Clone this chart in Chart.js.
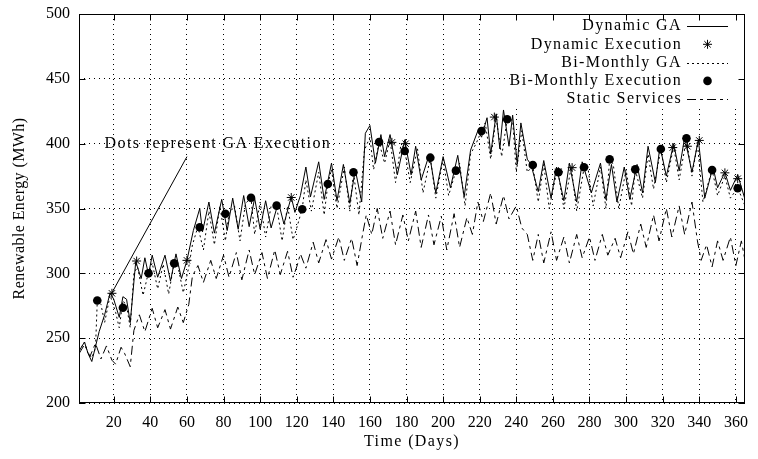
<!DOCTYPE html>
<html lang="en">
<head>
<meta charset="UTF-8">
<title>Renewable Energy (MWh)</title>
<script src="https://cdn.jsdelivr.net/npm/chart.js"></script>
<style>
  html, body { margin: 0; padding: 0; background: #fff; }
  .wrap { width: 758px; height: 459px; }
</style>
</head>
<body>
<div class="wrap"><canvas id="chart" width="758" height="459"></canvas></div>
<script>
  // ---- data (day, MWh) ----
  const xTicks = [20, 40, 60, 80, 100, 120, 140, 160, 180, 200, 220, 240, 260, 280, 300, 320, 340, 360];

  // Dynamic GA (solid line), vertices
  const dynGaDays = [1, 4, 6, 8, 12, 15, 18, 20, 23, 25, 27, 29, 32, 35, 37, 39, 41, 44, 48, 51, 54, 57, 60, 63.5, 67,
    68.5, 72, 75, 79, 82, 85, 88, 91, 94, 97, 100, 103, 106, 110, 113, 117, 119, 122, 125, 127.5, 132, 135, 139, 142,
    145.5, 149, 152, 155.5, 157.5, 160, 163, 166, 168, 171, 175, 179, 182.5, 185, 188, 192.5, 196, 200, 204, 208,
    211.5, 215, 219, 221, 224, 226, 229, 231, 233, 236, 238, 240.5, 242.5, 246, 248, 252, 255, 259, 262, 266, 269,
    273, 276, 281, 286, 289, 292, 295, 299, 302, 306, 309, 312, 316, 318.5, 322, 326, 329, 332, 336, 339.5, 343,
    347.5, 350, 354, 357, 361, 365];
  const dynGaVals = [240, 247, 238, 232, 255, 268, 285, 280, 266, 282, 280, 262, 309, 296, 312, 299, 314, 297, 314, 294, 315, 296, 310, 333, 350,
    332, 355, 331, 357, 333, 358, 334, 360, 336, 358, 334, 356, 335, 355, 338, 359, 347, 360, 382, 359, 386, 357, 385, 356,
    384, 354, 380, 355, 408, 414, 385, 407, 390, 407, 376, 403, 376, 398, 372, 392, 362, 390, 366, 391,
    359, 395, 410, 405, 420, 392, 423, 396, 426, 398, 422, 384, 416, 388, 384, 363, 387, 358, 382, 356, 385,
    355, 386, 362, 385, 357, 384, 355, 382, 357, 384, 362, 398, 370, 398, 375, 400, 379, 405, 378, 403, 358,
    382, 366, 378, 364, 376, 357];

  // Dynamic Execution (asterisks)
  const dynExecDays = [19, 32.5, 60, 117, 172, 179.5, 228, 263, 270.5, 325.5, 333.5, 340, 354, 361];
  const dynExecVals = [284.6, 309.5, 310, 358.5, 401, 400, 420.5, 378.4, 381.5, 397, 398, 402.5, 377.5, 373];

  // Bi-Monthly GA (dotted line), vertices
  const biGaDays = [1, 4, 6, 8, 10, 11, 13, 15, 18, 21, 23, 25, 27, 29, 31, 33, 36, 39, 41, 44, 47, 50, 53, 55, 58, 61,
    63, 66, 69, 72, 75, 78, 81, 83, 86, 89, 92, 95, 97, 100, 103, 106, 109, 112, 115, 118, 120, 123, 125, 128, 132,
    135, 137, 139, 142, 146, 149, 151, 154, 157, 160, 162, 165, 168, 171, 174, 177, 179, 182, 186, 189, 193, 196,
    200, 203, 207, 209, 212, 215, 218, 221, 223, 226, 229, 232, 235, 238, 240, 243, 246, 249, 252, 255, 258, 262,
    263, 266, 270, 273, 277, 279, 282, 286, 289, 291, 293, 296, 300, 303, 305, 309, 312, 315, 319, 322, 326, 329,
    333, 336, 339, 342, 347, 350, 354, 357, 361, 365];
  const biGaVals = [240, 247, 238, 235, 242, 279, 276, 262, 283, 270, 258, 279, 275, 258, 300, 305, 283, 301, 308, 288, 307, 284, 308, 306, 285, 305,
    322, 336, 318, 348, 322, 352, 325, 346, 352, 325, 354, 358, 330, 355, 328, 352, 352, 325, 352, 326, 335, 350, 372, 348, 378,
    345, 369, 380, 350, 382, 348, 378, 345, 395, 405, 380, 401, 385, 403, 370, 400, 395, 370, 396, 362, 389, 358,
    388, 360, 379, 385, 352, 392, 400, 410, 416, 388, 420, 390, 419, 418, 378, 410, 378, 383, 355, 384, 350, 378,
    377, 350, 382, 348, 381, 383, 352, 382, 350, 388, 384, 350, 380, 352, 380, 358, 392, 365, 396, 370, 398, 372,
    404, 375, 400, 355, 380, 360, 375, 358, 366, 352];

  // Bi-Monthly Execution (filled dots)
  const biExecDays = [11, 25, 39, 53, 67, 81, 95, 109, 123, 137, 151, 165, 179, 193, 207, 221, 235, 249, 263, 277, 291, 305, 319, 333, 347, 361];
  const biExecVals = [279, 273.5, 300, 307.7, 335.5, 346, 358.3, 352.2, 349.4, 368.9, 377.9, 401.3, 394.4, 389.2, 379.2, 409.8, 418.8,
    383.6, 377.9, 381.8, 387.9, 380.2, 395.9, 404.1, 379.7, 365.6];

  // Static Services (dash-dot line), vertices
  const staticDays = [1, 4, 7, 10, 13, 16, 19, 21, 24, 26, 29, 31, 34, 37, 41, 44, 48, 51, 55, 58, 61, 63, 66, 69, 73, 76,
    80, 83, 87, 90, 94, 97, 101, 104, 108, 111, 115, 118, 120, 122, 125, 129, 132, 136, 139, 143, 146, 150, 153, 156,
    158, 161, 164, 167, 171, 174, 178, 181, 185, 188, 192, 195, 199, 202, 206, 209, 213, 216, 219, 222, 226, 229,
    233, 236, 240, 243, 246, 249, 252, 255, 259, 262, 266, 269, 273, 276, 280, 283, 287, 290, 294, 297, 301, 304,
    308, 311, 315, 318, 322, 325, 329, 332, 336, 339, 341, 344, 347, 350, 353, 357, 360, 363, 365];
  const staticVals = [238, 245, 236, 246, 234, 244, 233, 230, 243, 238, 228, 256, 268, 255, 273, 258, 272, 257, 274, 262, 276, 298, 306, 293, 310, 296,
    314, 297, 316, 295, 318, 299, 316, 296, 318, 299, 317, 297, 305, 315, 304, 324, 308, 326, 311, 328, 310, 327, 306, 330,
    345, 330, 350, 327, 348, 322, 345, 325, 348, 320, 345, 322, 344, 318, 346, 320, 343, 330, 355, 340, 362, 338,
    360, 342, 352, 335, 330, 310, 330, 308, 332, 310, 328, 308, 330, 312, 328, 310, 330, 314, 327, 312, 332, 315,
    338, 320, 345, 325, 350, 328, 352, 330, 355, 325, 310, 322, 305, 325, 310, 328, 306, 325, 310];

  const note = 'Dots represent GA Execution';
  const noteAt = [15, 400];
  const noteArrow = [[60, 390], [19, 285]];

  const pts = (days, vals) => days.map((d, i) => ({ x: d, y: vals[i] }));

  const SERIF = '"Liberation Serif", "DejaVu Serif", serif';

  function spacedText(ctx, str, px, py, spacing) {
    ctx.letterSpacing = spacing;
    ctx.fillText(str, px, py);
    ctx.letterSpacing = '0px';
  }

  const overlay = {
    id: 'overlay',
    afterDatasetsDraw(chart) {
      const { ctx, chartArea: a, scales: { x, y } } = chart;
      ctx.save();
      ctx.fillStyle = '#000';
      ctx.strokeStyle = '#000';
      ctx.lineWidth = 1;

      // annotation
      ctx.font = '16px ' + SERIF;
      ctx.textAlign = 'left';
      ctx.textBaseline = 'middle';
      spacedText(ctx, note, x.getPixelForValue(noteAt[0]), y.getPixelForValue(noteAt[1]), '1.4px');
      ctx.beginPath();
      ctx.moveTo(x.getPixelForValue(noteArrow[0][0]), y.getPixelForValue(noteArrow[0][1]));
      ctx.lineTo(x.getPixelForValue(noteArrow[1][0]), y.getPixelForValue(noteArrow[1][1]));
      ctx.stroke();

      // key (opaque box, text right aligned, sample on the right)
      ctx.fillStyle = '#fff';
      ctx.fillRect(a.left + 432, a.top + 1, a.right - a.left - 435, 92);
      ctx.fillStyle = '#000';
      ctx.textAlign = 'right';
      chart.data.datasets.forEach((ds, i) => {
        const ry = a.top + 12 + i * 18.3;
        spacedText(ctx, ds.label, a.right - 63, ry, '1.4px');
        const sx0 = a.right - 58, sx1 = a.right - 17, mx = (sx0 + sx1) / 2;
        if (ds.showLine) {
          ctx.setLineDash(ds.borderDash || []);
          ctx.beginPath();
          ctx.moveTo(sx0, Math.round(ry) + 0.5);
          ctx.lineTo(sx1, Math.round(ry) + 0.5);
          ctx.stroke();
          ctx.setLineDash([]);
        } else if (ds.pointStyle === 'star') {
          const r = ds.pointRadius;
          ctx.beginPath();
          for (let k = 0; k < 4; k++) {
            const ang = k * Math.PI / 4;
            ctx.moveTo(mx - r * Math.cos(ang), ry - r * Math.sin(ang));
            ctx.lineTo(mx + r * Math.cos(ang), ry + r * Math.sin(ang));
          }
          ctx.stroke();
        } else {
          ctx.beginPath();
          ctx.arc(mx, ry, ds.pointRadius, 0, Math.PI * 2);
          ctx.fill();
        }
      });

      // frame with inward ticks on all sides
      const L = Math.round(a.left) + 0.5, R = Math.round(a.right) - 0.5;
      const T = Math.round(a.top) + 0.5, B = Math.round(a.bottom) - 0.5;
      ctx.strokeRect(L, T, R - L, B - T);
      ctx.beginPath();
      xTicks.forEach(v => {
        const px = Math.round(x.getPixelForValue(v)) + 0.5;
        ctx.moveTo(px, B); ctx.lineTo(px, B - 6);
        ctx.moveTo(px, T); ctx.lineTo(px, T + 6);
      });
      y.ticks.forEach(t => {
        const py = Math.round(y.getPixelForValue(t.value)) + 0.5;
        ctx.moveTo(L, py); ctx.lineTo(L + 6, py);
        ctx.moveTo(R, py); ctx.lineTo(R - 6, py);
      });
      ctx.stroke();

      // axis titles
      ctx.textAlign = 'center';
      spacedText(ctx, 'Time (Days)', (a.left + a.right) / 2, a.bottom + 39, '1.4px');
      ctx.translate(20, (a.top + a.bottom) / 2);
      ctx.rotate(-Math.PI / 2);
      spacedText(ctx, 'Renewable Energy (MWh)', 0, 0, '0.4px');
      ctx.restore();
    }
  };

  const lineDs = (label, data, dash) => ({
    label, data, showLine: true, borderColor: '#000', borderWidth: 1, borderDash: dash,
    pointRadius: 0, pointHoverRadius: 0, tension: 0, fill: false, order: 1
  });

  new Chart(document.getElementById('chart'), {
    type: 'scatter',
    data: {
      datasets: [
        lineDs('Dynamic GA', pts(dynGaDays, dynGaVals), []),
        {
          label: 'Dynamic Execution', data: pts(dynExecDays, dynExecVals), pointStyle: 'star',
          pointRadius: 4.5, borderColor: '#000', borderWidth: 1, backgroundColor: '#000', order: 0
        },
        lineDs('Bi-Monthly GA', pts(biGaDays, biGaVals), [2, 3]),
        {
          label: 'Bi-Monthly Execution', data: pts(biExecDays, biExecVals), pointStyle: 'circle',
          pointRadius: 4.3, borderWidth: 0, backgroundColor: '#000', order: 0
        },
        lineDs('Static Services', pts(staticDays, staticVals), [9, 4, 3, 4])
      ]
    },
    options: {
      responsive: false,
      animation: false,
      layout: { padding: { top: 14, right: 9, left: 0, bottom: 0 } },
      plugins: { legend: { display: false }, tooltip: { enabled: false } },
      scales: {
        x: {
          type: 'linear', min: 1, max: 365,
          afterBuildTicks: s => { s.ticks = xTicks.map(v => ({ value: v })); },
          afterFit: s => { s.height = 56; },
          ticks: { color: '#000', font: { family: SERIF, size: 16 }, padding: 10, maxRotation: 0, autoSkip: false },
          grid: { color: '#000', lineWidth: 1, drawTicks: false },
          border: { display: false, dash: [1, 4] }
        },
        y: {
          min: 200, max: 500,
          afterFit: s => { s.width = 79; },
          ticks: { stepSize: 50, color: '#000', font: { family: SERIF, size: 16, lineHeight: 0.6 }, padding: 9 },
          grid: { color: '#000', lineWidth: 1, drawTicks: false },
          border: { display: false, dash: [1, 4] }
        }
      }
    },
    plugins: [overlay]
  });
</script>
</body>
</html>
